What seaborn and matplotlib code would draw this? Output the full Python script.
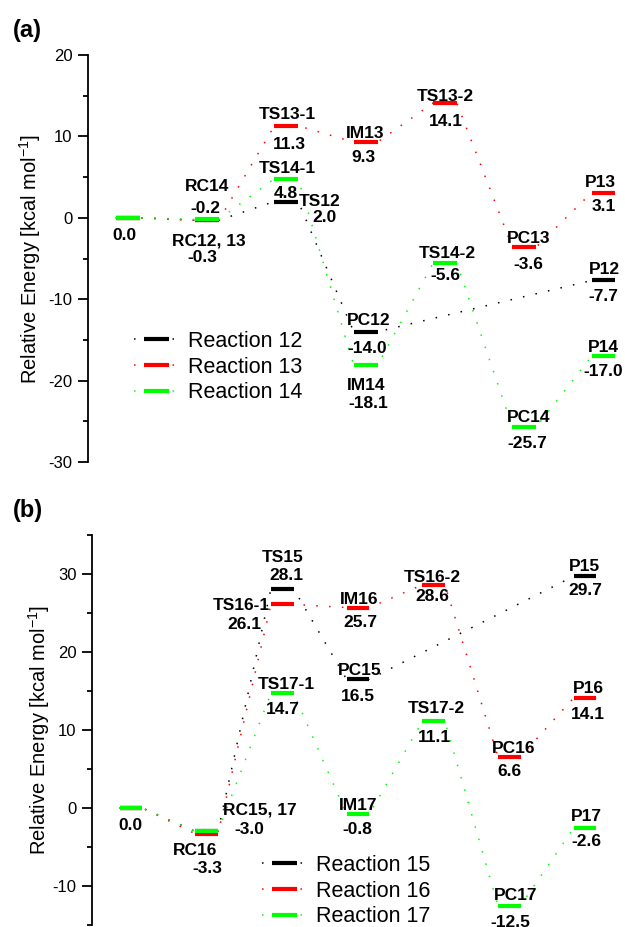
import pandas as pd
import seaborn as sns
import matplotlib.pyplot as plt
from matplotlib.lines import Line2D
from matplotlib.ticker import MultipleLocator

# ---- data, panel (a) ----
steps_12 = [0, 1, 2, 3, 6]
energy_12 = [0.0, -0.3, 2.0, -14.0, -7.7]
names_12 = ["", "", "TS12", "PC12", "P12"]

steps_13 = [0, 1, 2, 3, 4, 5, 6]
energy_13 = [0.0, -0.3, 11.3, 9.3, 14.1, -3.6, 3.1]
names_13 = ["", "RC12, 13", "TS13-1", "IM13", "TS13-2", "PC13", "P13"]

steps_14 = [0, 1, 2, 3, 4, 5, 6]
energy_14 = [0.0, -0.2, 4.8, -18.1, -5.6, -25.7, -17.0]
names_14 = ["", "RC14", "TS14-1", "IM14", "TS14-2", "PC14", "P14"]

# ---- data, panel (b) ----
steps_15 = [0, 1, 2, 3, 6]
energy_15 = [0.0, -3.0, 28.1, 16.5, 29.7]
names_15 = ["", "", "TS15", "PC15", "P15"]

steps_16 = [0, 1, 2, 3, 4, 5, 6]
energy_16 = [0.0, -3.3, 26.1, 25.7, 28.6, 6.6, 14.1]
names_16 = ["", "RC16", "TS16-1", "IM16", "TS16-2", "PC16", "P16"]

steps_17 = [0, 1, 2, 3, 4, 5, 6]
energy_17 = [0.0, -3.0, 14.7, -0.8, 11.1, -12.5, -2.6]
names_17 = ["", "RC15, 17", "TS17-1", "IM17", "TS17-2", "PC17", "P17"]

colors = ["#000000", "#ff0000", "#00ff00"]

# label offsets in pixels: (reaction, index) -> (name dx, name dy, value dx, value dy)
# name dx None -> only the value is written
layout_a = {
    ("14", 0): (None, None, -3, -16),
    ("14", 1): (0, 35, -2, 13),
    ("13", 1): (2, -19, -5, -35),
    ("13", 2): (1, 13, 3, -17),
    ("14", 2): (1, 12, 0, -13),
    ("12", 2): (33, 2, 38, -14),
    ("13", 3): (0, 11, -2, -13),
    ("12", 3): (3, 13, 2, -15),
    ("14", 3): (1, -18, 3, -36),
    ("13", 4): (0, 9, 1, -16),
    ("14", 4): (2, 12, 0, -10),
    ("13", 5): (4, 11, 4, -15),
    ("14", 5): (4, 11, 3, -15),
    ("13", 6): (-3, 12, 0, -12),
    ("12", 4): (1, 13, 0, -14),
    ("14", 6): (0, 11, 0, -13),
}
layout_b = {
    ("17", 0): (None, None, -1, -16),
    ("16", 1): (-12, -15, 1, -33),
    ("17", 1): (53, 23, 43, 4),
    ("15", 2): (0, 33, 4, 15),
    ("16", 2): (-41, 1, -38, -18),
    ("17", 2): (4, 11, 1, -14),
    ("16", 3): (1, 10, 2, -13),
    ("15", 3): (2, 11, 0, -15),
    ("17", 3): (0, 11, -1, -13),
    ("16", 4): (-1, 9, -1, -10),
    ("17", 4): (3, 15, 1, -14),
    ("16", 5): (4, 10, 0, -13),
    ("17", 5): (6, 12, 1, -15),
    ("15", 4): (0, 12, 0, -12),
    ("16", 6): (3, 12, 3, -14),
    ("17", 6): (1, 14, 1, -11),
}

sns.set_style("ticks")
plt.rcParams["font.family"] = ["Liberation Sans", "DejaVu Sans"]
plt.rcParams["mathtext.default"] = "regular"
plt.rcParams["axes.unicode_minus"] = False
for k in ["text.color", "axes.labelcolor", "xtick.color", "ytick.color", "axes.edgecolor"]:
    plt.rcParams[k] = "black"

HW = 0.15  # half width of an energy level
DOTS = (0, (1, 7.4))


def draw_panel(ax, reactions, layout, ylim, xlim):
    for (tag, steps, energy, names), c in zip(reactions, colors):
        # dotted connector through both ends of every level
        xs, ys = [], []
        for s, e in zip(steps, energy):
            xs += [s - HW, s + HW]
            ys += [e, e]
        sns.lineplot(x=xs, y=ys, sort=False, estimator=None, color=c,
                     lw=1.1, linestyle=DOTS, ax=ax)
        # thick energy levels
        lev = pd.DataFrame({
            "x": [s + d for s in steps for d in (-HW, HW)],
            "E": [e for e in energy for _ in (0, 1)],
            "seg": [i for i in range(len(steps)) for _ in (0, 1)],
        })
        sns.lineplot(data=lev, x="x", y="E", units="seg", estimator=None,
                     sort=False, color=c, lw=3, solid_capstyle="butt", ax=ax)
        for i, (s, e, n) in enumerate(zip(steps, energy, names)):
            if (tag, i) not in layout:
                continue
            ndx, ndy, vdx, vdy = layout[(tag, i)]
            if ndx is not None:
                ax.annotate(n, (s, e), xytext=(ndx, ndy - 2), textcoords="offset pixels",
                            ha="center", va="center", fontsize=12.5, fontweight="bold")
            ax.annotate(f"{e:.1f}", (s, e), xytext=(vdx, vdy - 2), textcoords="offset pixels",
                        ha="center", va="center", fontsize=12.5, fontweight="bold")

    ax.set_xlim(*xlim)
    ax.set_ylim(*ylim)
    ax.yaxis.set_major_locator(MultipleLocator(10))
    ax.yaxis.set_minor_locator(MultipleLocator(5))
    ax.tick_params(axis="y", which="major", length=7.2, width=1.3, labelsize=12, pad=4)
    ax.tick_params(axis="y", which="minor", length=3.6, width=1.3)
    for sp in ["top", "right", "bottom"]:
        ax.spines[sp].set_visible(False)
    ax.spines["left"].set_linewidth(1.3)
    ax.set_xticks([])
    ax.set_xlabel("")


fig = plt.figure(figsize=(6.25, 9.27), dpi=100)
ax_a = fig.add_axes([88 / 625, 1 - 462 / 927, 537 / 625, 407 / 927])
ax_b = fig.add_axes([92 / 625, 2 / 927, 533 / 625, 390 / 927])

react_a = [("12", steps_12, energy_12, names_12),
           ("13", steps_13, energy_13, names_13),
           ("14", steps_14, energy_14, names_14)]
react_b = [("15", steps_15, energy_15, names_15),
           ("16", steps_16, energy_16, names_16),
           ("17", steps_17, energy_17, names_17)]

draw_panel(ax_a, react_a, layout_a, (-30, 20), (-0.5, 6.27))
draw_panel(ax_b, react_b, layout_b, (-15, 35), (-0.515, 6.53))

for ax, lp in [(ax_a, 4), (ax_b, 0.5)]:
    ax.set_ylabel("Relative Energy [kcal mol$^{-1}$]", fontsize=14.5, labelpad=lp)

# legends: dotted line with a level bar in the middle
for ax, tags, anchor in [(ax_a, ["12", "13", "14"], (0.0857, 0.233)),
                         (ax_b, ["15", "16", "17"], (0.319, 0.087))]:
    handles = [Line2D([], [], color=c, lw=1.1, linestyle=DOTS, marker="_",
                      markersize=18, markeredgewidth=3) for c in colors]
    ax.legend(handles, [f"Reaction {t}" for t in tags], loc="center left",
              bbox_to_anchor=anchor, frameon=False, fontsize=15.5, numpoints=1,
              handlelength=2.0, handletextpad=0.5, labelspacing=0.22,
              borderpad=0, borderaxespad=0)

fig.text(13 / 625, 1 - 30 / 927, "(a)", fontsize=17, fontweight="bold", va="center")
fig.text(13 / 625, 1 - 510 / 927, "(b)", fontsize=17, fontweight="bold", va="center")

fig.savefig("out.png", dpi=100)
